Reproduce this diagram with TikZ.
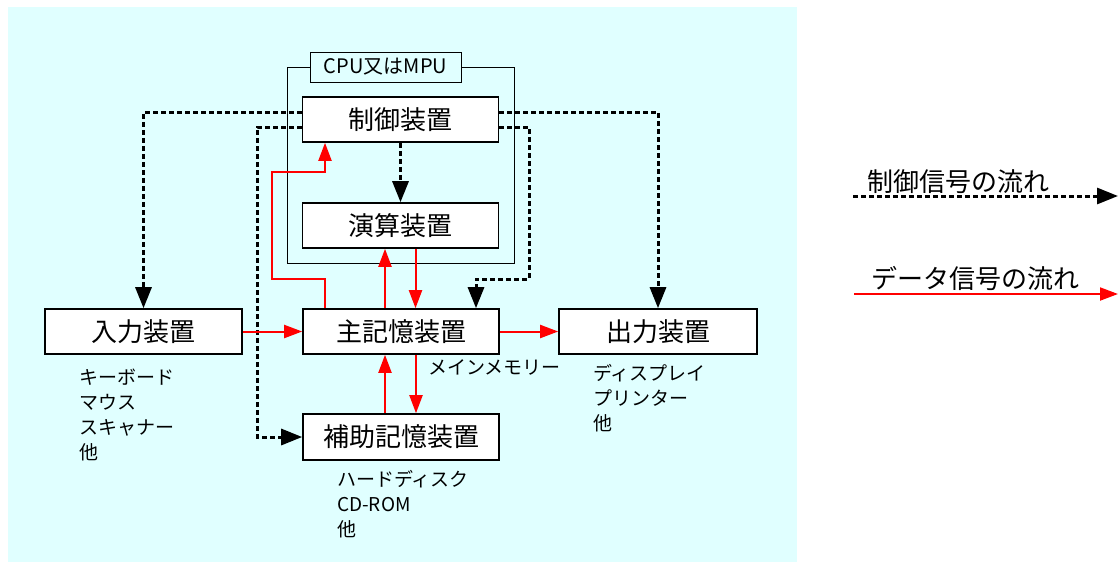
\documentclass[tikz,border=0pt]{standalone}
\usepackage{fontspec}
\setmainfont{Noto Sans CJK JP}
\usetikzlibrary{arrows.meta}
\definecolor{bgcyan}{RGB}{224,255,255}
\tikzset{
  unitbox/.style={draw, line width=1.6pt, fill=white, minimum width=196pt, minimum height=45pt, inner sep=0pt, font=\fontsize{26}{26}\selectfont},
  ctrlline/.style={line width=3pt, dash pattern=on 5pt off 3pt, -{Triangle[length=21pt,width=16pt]}},
  dataline/.style={red, line width=2pt, -{Triangle[length=18pt,width=13pt]}},
  sublabel/.style={anchor=north west, inner sep=0pt, align=left, font=\fontsize{19}{25}\selectfont},
  legendtext/.style={inner sep=0pt, font=\fontsize{26}{26}\selectfont}
}
\begin{document}
\begin{tikzpicture}[x=1pt,y=-1pt]
\useasboundingbox (0,0) rectangle (1119,563);
\fill[white] (0,0) rectangle (1119,563);
\fill[bgcyan] (8,7) rectangle (797,562);
% CPU frame
\node[draw, line width=0.8pt, minimum width=227pt, minimum height=196pt, inner sep=0pt] (cpu) at (400.5,165) {};
\node[draw, line width=0.8pt, fill=bgcyan, minimum width=151pt, minimum height=30pt, inner sep=0pt, font=\fontsize{20}{20}\selectfont] (cpulabel) at (385.5,67) {CPU又はMPU};
% units
\node[unitbox] (ctl) at (400.5,119.5) {制御装置};
\node[unitbox] (alu) at (400.5,225.5) {演算装置};
\node[unitbox] (mem) at (401,331.5) {主記憶装置};
\node[unitbox, minimum width=197pt] (in) at (143.5,331.5) {入力装置};
\node[unitbox, minimum width=198pt] (out) at (658,331.5) {出力装置};
\node[unitbox, minimum height=46pt] (aux) at (401,437) {補助記憶装置};
% sub labels
\node[sublabel] (inlist) at (79,369) {キーボード\\マウス\\スキャナー\\他};
\node[sublabel] (outlist) at (593,364) {ディスプレイ\\プリンター\\他};
\node[sublabel] (auxlist) at (337,470) {ハードディスク\\CD-ROM\\他};
\node[sublabel] (memnote) at (428,359) {メインメモリー};
% control connectors
\coordinate (c1) at (257,437);
\coordinate (c4) at (529,279);
\draw[ctrlline] ([yshift=7.5pt]ctl.west) -| (in.north);
\draw[ctrlline] ([yshift=-7.5pt]ctl.west) -| (c1) -- (aux.west);
\draw[ctrlline] ([yshift=7.5pt]ctl.east) -| (out.north);
\draw[ctrlline] ([yshift=-7.5pt]ctl.east) -| (c4) -| ([xshift=75pt]mem.north);
\draw[ctrlline] (ctl.south) -- (alu.north);
% data connectors
\coordinate (c2) at (272,279);
\coordinate (c3) at (272,172);
\draw[dataline] ([xshift=-76pt]mem.north) |- (c2) -- (c3) -| ([xshift=-75.5pt]ctl.south);
\draw[dataline] ([xshift=-16pt]mem.north) -- ([xshift=-16pt]mem.north |- alu.south);
\draw[dataline] ([xshift=15pt]alu.south) -- ([xshift=15pt]alu.south |- mem.north);
\draw[dataline] (in.east) -- (mem.west);
\draw[dataline] (mem.east) -- (out.west);
\draw[dataline] ([xshift=-16pt]aux.north) -- ([xshift=-16pt]aux.north |- mem.south);
\draw[dataline] ([xshift=15pt]mem.south) -- ([xshift=15pt]mem.south |- aux.north);
% legend
\coordinate (l1a) at (853,196);
\coordinate (l1b) at (1118,196);
\coordinate (l2a) at (854,294);
\coordinate (l2b) at (1118,294);
\node[legendtext] (lt1) at (958,182) {制御信号の流れ};
\node[legendtext] (lt2) at (975,278) {データ信号の流れ};
\draw[ctrlline] (l1a) -- (l1b);
\draw[dataline] (l2a) -- (l2b);
\end{tikzpicture}
\end{document}
